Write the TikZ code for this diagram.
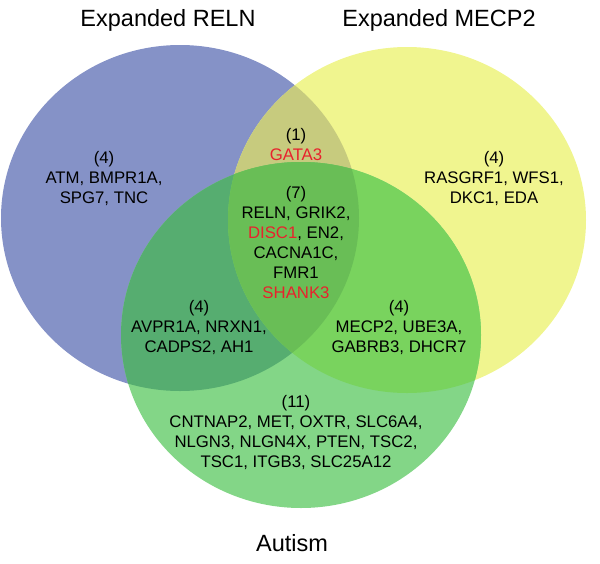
\documentclass[tikz,border=0pt]{standalone}
\usepackage{fontspec}
\setmainfont{Liberation Sans}
\definecolor{cB}{RGB}{133,146,199}
\definecolor{cY}{RGB}{240,245,143}
\definecolor{cG}{RGB}{131,214,135}
\definecolor{cBY}{RGB}{199,203,126}
\definecolor{cBG}{RGB}{86,173,112}
\definecolor{cYG}{RGB}{121,211,94}
\definecolor{cBYG}{RGB}{105,190,86}
\definecolor{gred}{RGB}{232,34,45}
\begin{document}
\begin{tikzpicture}[x=1pt,y=-1pt,
  genes/.style={align=center,font=\fontsize{16.75}{20}\selectfont,inner sep=0pt},
  title/.style={font=\fontsize{23.5}{26}\selectfont,inner sep=0pt}]
\useasboundingbox (0,0) rectangle (600,563);
\def\blueset{(180,218) ellipse [x radius=179pt, y radius=173pt]}
\def\yellowset{(407,220) ellipse [x radius=179pt, y radius=173pt]}
\def\greenset{(301,335) ellipse [x radius=180pt, y radius=173pt]}
\fill[cB] \blueset;
\fill[cY] \yellowset;
\fill[cG] \greenset;
\begin{scope}\clip \blueset; \fill[cBY] \yellowset; \end{scope}
\begin{scope}\clip \blueset; \fill[cBG] \greenset; \end{scope}
\begin{scope}\clip \yellowset; \fill[cYG] \greenset; \end{scope}
\begin{scope}\clip \blueset; \clip \yellowset; \fill[cBYG] \greenset; \end{scope}

\node[title] (tR) at (168,20) {Expanded RELN};
\node[title] (tM) at (439,20) {Expanded MECP2};
\node[title] (tA) at (292,543) {Autism};

\node[genes] (b) at (104,178) {(4)\\ATM, BMPR1A,\\SPG7, TNC};
\node[genes] (y) at (494,178) {(4)\\RASGRF1, WFS1,\\DKC1, EDA};
\node[genes] (by) at (296,145) {(1)\\\textcolor{gred}{GATA3}};
\node[genes] (byg) at (296,243) {(7)\\RELN, GRIK2,\\\textcolor{gred}{DISC1}, EN2,\\CACNA1C,\\FMR1\\\textcolor{gred}{SHANK3}};
\node[genes] (bg) at (199,327) {(4)\\AVPR1A, NRXN1,\\CADPS2, AH1};
\node[genes] (yg) at (399,327) {(4)\\MECP2, UBE3A,\\GABRB3, DHCR7};
\node[genes] (g) at (296,432) {(11)\\CNTNAP2, MET, OXTR, SLC6A4,\\NLGN3, NLGN4X, PTEN, TSC2,\\TSC1, ITGB3, SLC25A12};
\end{tikzpicture}
\end{document}
